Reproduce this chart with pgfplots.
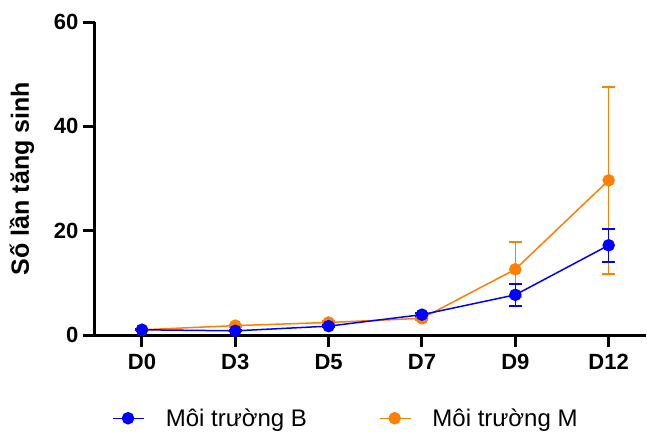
\documentclass[border=0pt]{standalone}
\usepackage{pgfplots}
\pgfplotsset{compat=1.18}
\usepackage{fontspec}
\setmainfont{Liberation Sans}
\definecolor{cB}{RGB}{0,0,255}
\definecolor{cM}{RGB}{255,128,0}
\begin{document}
\begin{tikzpicture}
\path[use as bounding box] (-95pt,-99pt) rectangle (552pt,335pt);
\begin{axis}[
  at={(0,0)}, anchor=south west,
  scale only axis, width=551pt, height=313pt,
  xmin=-0.503, xmax=5.40, ymin=0, ymax=60,
  axis x line=bottom, axis y line=left,
  axis line style={-, line width=3pt, black},
  xtick={0,1,2,3,4,5},
  xticklabels={D0,D3,D5,D7,D9,D12},
  ytick={0,20,40,60},
  tick align=outside, major tick length=12pt,
  tick style={line width=3pt, black},
  /pgf/number format/assume math mode=true,
  ticklabel style={font=\bfseries\fontsize{22}{22}\selectfont},
  xticklabel style={yshift=-4pt},
  yticklabel style={xshift=-1pt},
  ylabel={Số lần tăng sinh},
  every axis y label/.style={at={(axis description cs:-0.1325,0.5)}, rotate=90, anchor=center, font=\bfseries\fontsize{25}{25}\selectfont},
  legend columns=2,
  legend style={draw=none, fill=none, inner sep=0pt, at={(axis description cs:0.031,-0.266)}, anchor=west,
    font=\fontsize{24}{24}\selectfont,
    nodes={inner sep=0pt},
    /tikz/every odd column/.append style={column sep=21pt},
    /tikz/every even column/.append style={column sep=72pt}},
  legend image code/.code={\draw[mark repeat=2,mark phase=2] plot coordinates {(0pt,0pt) (15pt,0pt) (31pt,0pt)};},
  clip=false,
]
\addlegendimage{cB, line width=1.5pt, mark=*, mark size=5.5pt, mark options={solid, fill=cB}}
\addlegendentry{Môi trường B}
\addlegendimage{cM, line width=1.5pt, mark=*, mark size=5.5pt, mark options={solid, fill=cM}}
\addlegendentry{Môi trường M}
\addplot[forget plot, cM, line width=1.5pt, mark=*, mark size=5.5pt, mark options={fill=cM},
  error bars/.cd, y dir=both, y explicit, error bar style={line width=1.5pt, cM},
  error mark options={rotate=90, mark size=6.5pt, line width=2pt, cM}]
coordinates {(0,1.0) +- (0,0.1) (1,1.8) +- (0,0.2) (2,2.4) +- (0,0.2) (3,3.2) +- (0,0.3) (4,12.6) +- (0,5.3) (5,29.65) +- (0,17.95)};
\addplot[forget plot, cB, line width=1.5pt, mark=*, mark size=5.5pt, mark options={fill=cB},
  error bars/.cd, y dir=both, y explicit, error bar style={line width=1.5pt, cB},
  error mark options={rotate=90, mark size=6.5pt, line width=2pt, cB}]
coordinates {(0,1.0) +- (0,0.1) (1,0.8) +- (0,0.1) (2,1.7) +- (0,0.2) (3,3.9) +- (0,0.3) (4,7.7) +- (0,2.15) (5,17.2) +- (0,3.2)};
\end{axis}
\end{tikzpicture}
\end{document}
